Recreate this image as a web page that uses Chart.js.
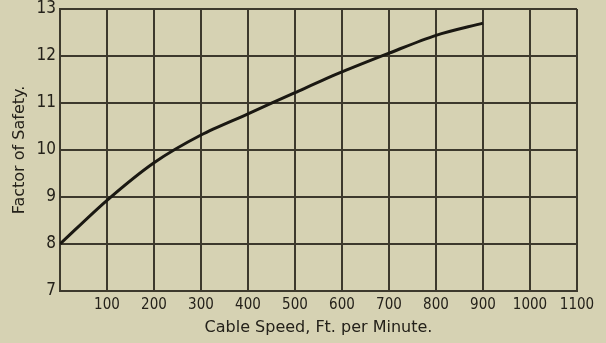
<!DOCTYPE html>
<html>
<head>
<meta charset="utf-8">
<script src="https://cdn.jsdelivr.net/npm/chart.js@4"></script>
<style>
    body { margin: 0; background: #d6d2b3; }
    #wrap { width: 606px; height: 343px; }
</style>
</head>
<body>
<div id="wrap"><canvas id="safetyChart" width="606" height="343"></canvas></div>
<script>
const cableSpeed = [0, 100, 200, 300, 400, 500, 600, 700, 800, 900];
const safetyFactor = [8.0, 8.93, 9.73, 10.32, 10.77, 11.22, 11.66, 12.06, 12.44, 12.70];
const xTicks = [100, 200, 300, 400, 500, 600, 700, 800, 900, 1000, 1100];
const yTicks = [7, 8, 9, 10, 11, 12, 13];

const ink = '#24211a';
const narrow = "'DejaVu Sans Condensed', 'DejaVu Sans', sans-serif";

const ctx = document.getElementById('safetyChart').getContext('2d');
new Chart(ctx, {
    type: 'line',
    data: {
        datasets: [{
            data: cableSpeed.map((s, i) => ({ x: s, y: safetyFactor[i] })),
            borderColor: '#1a1812',
            borderWidth: 3,
            pointRadius: 0,
            tension: 0.3,
            fill: false
        }]
    },
    options: {
        responsive: false,
        animation: false,
        layout: { padding: { top: 9, right: 29, left: 0, bottom: 0 } },
        plugins: {
            legend: { display: false },
            tooltip: { enabled: false }
        },
        scales: {
            x: {
                type: 'linear',
                min: 0,
                max: 1100,
                afterBuildTicks: scale => {
                    scale.ticks = [0].concat(xTicks).map(v => ({ value: v }));
                },
                ticks: {
                    color: ink,
                    font: { family: narrow, size: 15 },
                    padding: 5,
                    maxRotation: 0,
                    autoSkip: false,
                    callback: v => (v === 0 ? '' : v)
                },
                grid: { color: '#3d392d', lineWidth: 2, drawTicks: false },
                border: { color: '#3d392d', width: 2 },
                title: {
                    display: true,
                    text: 'Cable Speed, Ft. per Minute.',
                    color: ink,
                    font: { family: 'DejaVu Sans', size: 16 },
                    padding: { top: 0, bottom: 6 }
                },
                afterFit: scale => {
                    scale.height = 52;
                    scale.paddingLeft = 0;
                    scale.paddingRight = 0;
                }
            },
            y: {
                min: 7,
                max: 13,
                afterBuildTicks: scale => {
                    scale.ticks = yTicks.map(v => ({ value: v }));
                },
                ticks: {
                    color: ink,
                    font: { family: narrow, size: 17 },
                    padding: 4
                },
                grid: { color: '#3d392d', lineWidth: 2, drawTicks: false },
                border: { color: '#3d392d', width: 2 },
                title: {
                    display: true,
                    text: 'Factor of Safety.',
                    color: ink,
                    font: { family: 'DejaVu Sans', size: 16 },
                    padding: { top: 10, bottom: 0 }
                },
                afterFit: scale => {
                    scale.width = 60;
                    scale.paddingTop = 0;
                    scale.paddingBottom = 0;
                }
            }
        }
    }
});
</script>
</body>
</html>
